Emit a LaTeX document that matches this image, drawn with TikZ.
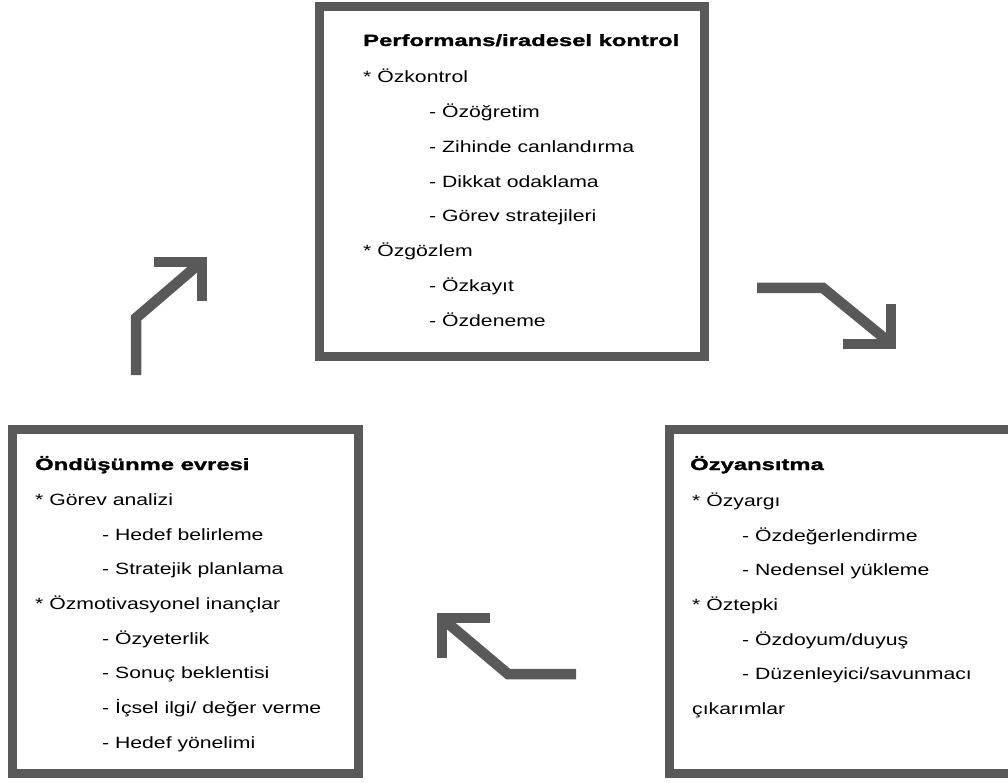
\documentclass[tikz,border=0pt]{standalone}
\usepackage{fontspec}
\setmainfont{Liberation Sans}[FakeStretch=1.3]
\newfontfamily\headfont{Liberation Sans}[FakeStretch=1.46,FakeBold=1.5]
\definecolor{boxgray}{HTML}{595959}
\begin{document}
\begin{tikzpicture}[x=1pt,y=-1pt,
  frame/.style={draw=boxgray,line width=9pt,inner sep=0pt},
  txt/.style={anchor=base west,inner sep=0pt,font=\fontsize{16.3}{19}\selectfont},
  head/.style={anchor=base west,inner sep=0pt,font=\headfont\bfseries\fontsize{16.3}{19}\selectfont},
  bigarrow/.style={draw=boxgray,line width=10.5pt,line join=miter,line cap=butt}]
\useasboundingbox (0,0) rectangle (1008,783);
% boxes
\node[frame,minimum width=385pt,minimum height=350pt] (topbox) at (512,181.5) {};
\node[frame,minimum width=346pt,minimum height=344.5pt] (leftbox) at (185.5,601.25) {};
\node[frame,minimum width=350.5pt,minimum height=344.5pt] (rightbox) at (844.75,601.25) {};
% top box text
\node[head] (t0) at (363,46) {Performans/iradesel kontrol};
\node[txt] (t1) at (363,83) {* Özkontrol};
\node[txt] (t2) at (429,117.7) {- Özöğretim};
\node[txt] (t3) at (429,152.4) {- Zihinde canlandırma};
\node[txt] (t4) at (429,187.1) {- Dikkat odaklama};
\node[txt] (t5) at (429,221.8) {- Görev stratejileri};
\node[txt] (t6) at (363,256.5) {* Özgözlem};
\node[txt] (t7) at (429,291.2) {- Özkayıt};
\node[txt] (t8) at (429,326) {- Özdeneme};
% left box text
\node[head] (l0) at (35,470) {Öndüşünme evresi};
\node[txt] (l1) at (35,505) {* Görev analizi};
\node[txt] (l2) at (102,540) {- Hedef belirleme};
\node[txt] (l3) at (102,574.7) {- Stratejik planlama};
\node[txt] (l4) at (35,609.4) {* Özmotivasyonel inançlar};
\node[txt] (l5) at (102,644.1) {- Özyeterlik};
\node[txt] (l6) at (102,678.8) {- Sonuç beklentisi};
\node[txt] (l7) at (102,713.5) {- İçsel ilgi/ değer verme};
\node[txt] (l8) at (102,748.2) {- Hedef yönelimi};
% right box text
\node[head] (r0) at (690,470) {Özyansıtma};
\node[txt] (r1) at (692,506) {* Özyargı};
\node[txt] (r2) at (742,541) {- Özdeğerlendirme};
\node[txt] (r3) at (742,575.7) {- Nedensel yükleme};
\node[txt] (r4) at (692,610.4) {* Öztepki};
\node[txt] (r5) at (742,645.1) {- Özdoyum/duyuş};
\node[txt] (r6) at (742,679.8) {- Düzenleyici/savunmacı};
\node[txt] (r7) at (692,714.5) {çıkarımlar};
% arrow 1 (up-right)
\coordinate (a1s) at (136,375);
\coordinate (a1b) at (136,318);
\coordinate (a1e) at (199,264);
\coordinate (a1h1) at (154,262);
\coordinate (a1t) at (202,262);
\coordinate (a1h2) at (202,301);
\draw[bigarrow] (a1s) -- (a1b) -- (a1e);
\draw[bigarrow] (a1h1) -- (a1t) -- (a1h2);
% arrow 2 (right-down)
\coordinate (a2s) at (757,288);
\coordinate (a2b) at (823,288);
\coordinate (a2e) at (889,342);
\coordinate (a2h1) at (843,344);
\coordinate (a2t) at (891,344);
\coordinate (a2h2) at (891,304);
\draw[bigarrow] (a2s) -- (a2b) -- (a2e);
\draw[bigarrow] (a2h1) -- (a2t) -- (a2h2);
% arrow 3 (left-up)
\coordinate (a3s) at (576,674);
\coordinate (a3b) at (508,674);
\coordinate (a3e) at (444,620);
\coordinate (a3h1) at (490,618);
\coordinate (a3t) at (442,618);
\coordinate (a3h2) at (442,658);
\draw[bigarrow] (a3s) -- (a3b) -- (a3e);
\draw[bigarrow] (a3h1) -- (a3t) -- (a3h2);
\end{tikzpicture}
\end{document}
